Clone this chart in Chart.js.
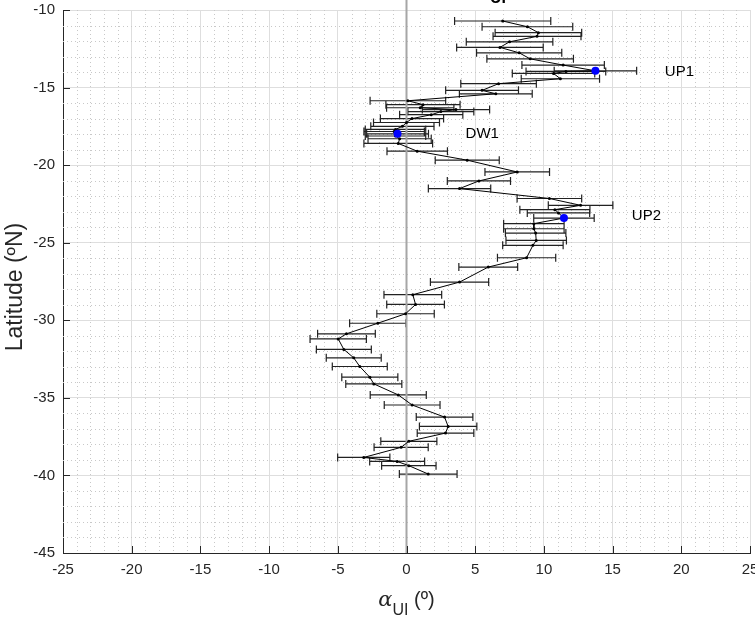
<!DOCTYPE html>
<html>
<head>
<meta charset="utf-8">
<script src="https://cdn.jsdelivr.net/npm/chart.js@4.4.1/dist/chart.umd.min.js"></script>
<style>
  html, body { margin: 0; padding: 0; background: #fff; }
</style>
</head>
<body>
<canvas id="chart" width="755" height="619"></canvas>
<script>
// station latitudes (ºN), north to south
const lat = [
  -10.71, -11.08, -11.46, -11.70, -12.05, -12.41, -12.76, -13.15, -13.55, -13.92,
  -13.96, -14.09, -14.43, -14.75, -15.18, -15.40, -15.85, -16.10, -16.30, -16.42,
  -16.55, -16.75, -17.00, -17.25, -17.50, -17.70, -17.83, -17.98, -18.12, -18.30,
  -18.60, -19.10, -19.68, -20.44, -21.02, -21.51, -22.15, -22.59, -22.87, -23.08,
  -23.41, -23.77, -24.10, -24.38, -24.85, -25.17, -25.97, -26.57, -27.54, -28.35,
  -28.98, -29.58, -30.19, -30.87, -31.20, -31.88, -32.42, -32.98, -33.67, -34.10,
  -34.81, -35.46, -36.24, -36.84, -37.27, -37.80, -38.19, -38.84, -39.10, -39.37,
  -39.91
];

// alpha_UI (º) at each station
const alphaUI = [
  7.0, 8.8, 9.6, 9.5, 7.5, 6.8, 8.2, 9.0, 11.4, 13.75,
  11.6, 10.7, 11.2, 6.7, 5.5, 6.5, 0.1, 1.2, 1.0, 3.6,
  2.5, 1.8, 0.4, 0.0, -0.3, -0.8, -0.9, -0.65, -0.8, -0.5,
  -0.6, 0.78, 4.42, 8.06, 5.27, 3.86, 10.4, 12.67, 10.8, 11.06,
  11.46, 9.27, 9.27, 9.4, 9.44, 9.2, 8.74, 5.95, 3.86, 0.46,
  0.66, -0.07, -2.09, -4.37, -4.97, -4.56, -3.84, -3.4, -2.67, -2.38,
  -0.6, 0.41, 2.77, 3.03, 2.84, 0.17, -0.39, -3.11, -0.68, 0.17,
  1.58
];

// half width of the error bar (º)
const alphaErr = [
  3.5, 3.3, 3.15, 3.2, 3.15, 3.15, 3.1, 3.15, 3.0, 3.0,
  2.9, 3.0, 2.85, 2.75, 2.65, 2.65, 2.75, 2.7, 2.45, 2.45,
  2.4, 2.3, 2.3, 2.4, 2.3, 2.2, 2.2, 2.25, 2.2, 2.3,
  2.5, 2.2, 2.33, 2.35, 2.3, 2.27, 2.35, 2.35, 2.55, 2.27,
  2.2, 2.2, 2.2, 2.2, 2.2, 2.2, 2.12, 2.14, 2.12, 2.1,
  2.1, 2.09, 2.05, 2.1, 2.05, 2.0, 2.0, 2.0, 2.04, 2.04,
  2.04, 2.03, 2.06, 2.09, 2.06, 2.04, 1.97, 1.9, 2.0, 1.98,
  2.1
];

// highlighted stations
const markIdx = [9, 27, 40];
const markNames = ['UP1', 'DW1', 'UP2'];

const AXIS = '#262626';
const FONT = "'Liberation Sans', Arial, sans-serif";

// where the station names sit (data units)
const nameSpots = [[18.8, -14.0], [4.3, -18.0], [16.4, -23.3]];

const extras = {
  id: 'extras',
  beforeDatasetsDraw(chart) {
    const { ctx, chartArea: a, scales: { x, y } } = chart;
    ctx.save();

    // dotted minor grid every 1 unit
    ctx.strokeStyle = '#c8c8c8';
    ctx.lineWidth = 1;
    ctx.setLineDash([1, 3]);
    ctx.beginPath();
    for (let v = x.min + 1; v < x.max; v++) {
      if (v % 5 === 0) continue;
      const px = Math.round(x.getPixelForValue(v)) + 0.5;
      ctx.moveTo(px, a.top);
      ctx.lineTo(px, a.bottom);
    }
    for (let v = y.min + 1; v < y.max; v++) {
      if (v % 5 === 0) continue;
      const py = Math.round(y.getPixelForValue(v)) + 0.5;
      ctx.moveTo(a.left, py);
      ctx.lineTo(a.right, py);
    }
    ctx.stroke();
    ctx.setLineDash([]);

    // horizontal error bars with caps
    ctx.strokeStyle = '#222';
    ctx.lineWidth = 1.2;
    ctx.beginPath();
    for (let i = 0; i < lat.length; i++) {
      const py = y.getPixelForValue(lat[i]);
      const x1 = x.getPixelForValue(alphaUI[i] - alphaErr[i]);
      const x2 = x.getPixelForValue(alphaUI[i] + alphaErr[i]);
      ctx.moveTo(x1, py); ctx.lineTo(x2, py);
      ctx.moveTo(x1, py - 4); ctx.lineTo(x1, py + 4);
      ctx.moveTo(x2, py - 4); ctx.lineTo(x2, py + 4);
    }
    ctx.stroke();
    ctx.restore();
  },
  afterDraw(chart) {
    const { ctx, chartArea: a, scales: { x, y } } = chart;
    ctx.save();

    // inward tick marks
    ctx.strokeStyle = AXIS;
    ctx.lineWidth = 1;
    ctx.beginPath();
    x.ticks.forEach(t => {
      const px = Math.round(x.getPixelForValue(t.value)) + 0.5;
      ctx.moveTo(px, a.bottom);
      ctx.lineTo(px, a.bottom - 7);
    });
    y.ticks.forEach(t => {
      const py = Math.round(y.getPixelForValue(t.value)) + 0.5;
      ctx.moveTo(a.left, py);
      ctx.lineTo(a.left + 7, py);
    });
    ctx.stroke();

    // station names
    ctx.fillStyle = '#000';
    ctx.font = '15px ' + FONT;
    ctx.textBaseline = 'middle';
    ctx.textAlign = 'left';
    markNames.forEach((n, k) => {
      ctx.fillText(n, x.getPixelForValue(nameSpots[k][0]), y.getPixelForValue(nameSpots[k][1]));
    });

    // title, mostly cut off by the top edge
    ctx.font = 'bold 16px ' + FONT;
    ctx.textAlign = 'center';
    ctx.textBaseline = 'alphabetic';
    ctx.fillText('UP', 501, 3);

    // x title: alpha_UI (º)
    ctx.fillStyle = AXIS;
    const base = 606;
    const fA = "italic 21px 'DejaVu Serif', serif";
    const fS = '16px ' + FONT;
    const fP = '20px ' + FONT;
    ctx.font = fA; const wA = ctx.measureText('α').width;
    ctx.font = fS; const wS = ctx.measureText('UI').width;
    ctx.font = fP; const wP = ctx.measureText(' (º)').width;
    let cx = (a.left + a.right) / 2 - (wA + wS + wP) / 2;
    ctx.textAlign = 'left';
    ctx.font = fA; ctx.fillText('α', cx, base); cx += wA;
    ctx.font = fS; ctx.fillText('UI', cx, base + 9); cx += wS;
    ctx.font = fP; ctx.fillText(' (º)', cx, base);

    // y title
    ctx.translate(16, 287);
    ctx.rotate(-Math.PI / 2);
    ctx.font = '23px ' + FONT;
    ctx.textAlign = 'center';
    ctx.textBaseline = 'middle';
    ctx.fillText('Latitude (ºN)', 0, 0);
    ctx.restore();
  }
};

new Chart(document.getElementById('chart'), {
  type: 'scatter',
  data: {
    datasets: [
      {
        label: 'markers',
        data: markIdx.map(i => ({ x: alphaUI[i], y: lat[i] })),
        showLine: false,
        pointRadius: 4,
        pointBackgroundColor: '#0000ff',
        pointBorderColor: '#0000ff',
        pointBorderWidth: 0
      },
      {
        label: 'alpha',
        data: lat.map((v, i) => ({ x: alphaUI[i], y: v })),
        showLine: true,
        borderColor: '#000',
        borderWidth: 1,
        pointRadius: 1.5,
        pointBackgroundColor: '#000',
        pointBorderWidth: 0,
        tension: 0
      },
      {
        label: 'zero',
        data: [{ x: 0, y: -45 }, { x: 0, y: -9 }],
        showLine: true,
        borderColor: '#a6a6a6',
        borderWidth: 2,
        pointRadius: 0,
        clip: false
      }
    ]
  },
  options: {
    responsive: false,
    animation: false,
    events: [],
    layout: { padding: { top: 10, right: 5, left: 0, bottom: 0 } },
    plugins: { legend: { display: false }, tooltip: { enabled: false } },
    scales: {
      x: {
        type: 'linear',
        min: -25,
        max: 25,
        ticks: { stepSize: 5, autoSkip: false, maxRotation: 0, padding: 8, color: AXIS, font: { size: 15, family: FONT } },
        grid: { color: '#dedede', drawTicks: false },
        border: { color: AXIS, width: 1 },
        afterFit(s) { s.height = 66; s.paddingLeft = 0; s.paddingRight = 0; }
      },
      y: {
        type: 'linear',
        min: -45,
        max: -10,
        ticks: { stepSize: 5, padding: 8, color: AXIS, font: { size: 15, family: FONT } },
        grid: { color: '#dedede', drawTicks: false },
        border: { color: AXIS, width: 1 },
        afterFit(s) { s.width = 63; s.paddingTop = 0; s.paddingBottom = 0; }
      }
    }
  },
  plugins: [extras]
});
</script>
</body>
</html>
